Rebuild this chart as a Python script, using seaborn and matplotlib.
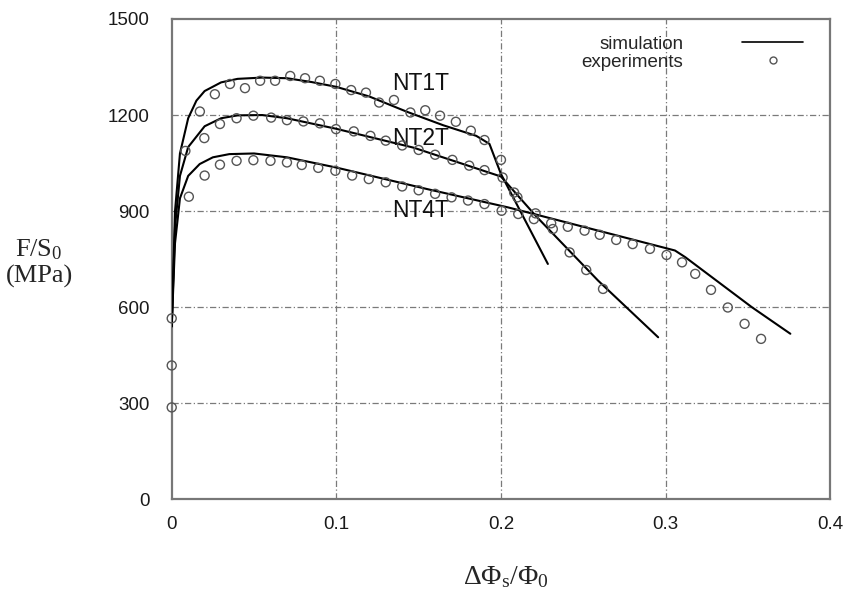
import numpy as np
import pandas as pd
import matplotlib
matplotlib.use("Agg")
import matplotlib.pyplot as plt
import seaborn as sns
from matplotlib.lines import Line2D

# simulation curves
nt1t_sim_x = [0, 0.002, 0.005, 0.010, 0.015, 0.020, 0.030, 0.040, 0.055, 0.070, 0.085, 0.100, 0.120, 0.143, 0.165, 0.185, 0.193, 0.200, 0.2285]
nt1t_sim_y = [540, 900, 1080, 1190, 1245, 1275, 1302, 1313, 1317, 1315, 1303, 1288, 1258, 1210, 1168, 1135, 1110, 1016, 735]

nt2t_sim_x = [0, 0.002, 0.005, 0.010, 0.020, 0.030, 0.040, 0.055, 0.070, 0.100, 0.147, 0.200, 0.221, 0.259, 0.2955]
nt2t_sim_y = [540, 850, 1010, 1100, 1165, 1190, 1199, 1200, 1190, 1157, 1098, 1008, 886, 683, 506]

nt4t_sim_x = [0, 0.002, 0.005, 0.010, 0.017, 0.025, 0.035, 0.050, 0.070, 0.100, 0.155, 0.204, 0.220, 0.3057, 0.312, 0.3524, 0.3758]
nt4t_sim_y = [540, 800, 940, 1010, 1047, 1068, 1078, 1080, 1068, 1036, 969, 912, 891, 777, 756, 600, 517]

# experiments
nt1t_exp_x = [0, 0.0171, 0.0262, 0.0354, 0.0445, 0.0537, 0.0628, 0.072, 0.081, 0.090, 0.0994, 0.109, 0.118, 0.126, 0.135, 0.145, 0.154, 0.163, 0.1726, 0.1817, 0.190, 0.200, 0.208]
nt1t_exp_y = [565, 1211, 1265, 1297, 1284, 1307, 1307, 1322, 1315, 1307, 1297, 1278, 1270, 1239, 1247, 1208, 1215, 1198, 1179, 1151, 1122, 1060, 958]

nt2t_exp_x = [0, 0.0083, 0.0198, 0.0293, 0.0394, 0.0496, 0.0604, 0.070, 0.080, 0.090, 0.0998, 0.1106, 0.1207, 0.130, 0.140, 0.150, 0.160, 0.1705, 0.1807, 0.190, 0.201, 0.210, 0.221, 0.2315, 0.2417, 0.2518, 0.262]
nt2t_exp_y = [418, 1088, 1128, 1172, 1190, 1198, 1192, 1184, 1180, 1174, 1156, 1149, 1135, 1120, 1105, 1091, 1076, 1060, 1042, 1028, 1005, 943, 893, 844, 771, 716, 657]

nt4t_exp_x = [0, 0.0104, 0.020, 0.0293, 0.0394, 0.0496, 0.060, 0.070, 0.079, 0.089, 0.0994, 0.1096, 0.1197, 0.130, 0.140, 0.150, 0.160, 0.170, 0.180, 0.190, 0.2004, 0.2105, 0.220, 0.2305, 0.2406, 0.2508, 0.260, 0.270, 0.280, 0.2905, 0.3006, 0.310, 0.318, 0.3276, 0.3378, 0.348, 0.358]
nt4t_exp_y = [287, 945, 1011, 1045, 1057, 1059, 1057, 1052, 1044, 1035, 1026, 1011, 1000, 990, 977, 965, 954, 943, 933, 922, 901, 891, 875, 862, 851, 839, 826, 810, 797, 782, 763, 740, 704, 654, 599, 548, 501]

specimens = ["NT1T", "NT2T", "NT4T"]
label_y = [1298, 1126, 901]
x_ticks = [0, 0.1, 0.2, 0.3, 0.4]
x_tick_labels = ["0", "0.1", "0.2", "0.3", "0.4"]
y_ticks = [0, 300, 600, 900, 1200, 1500]

sim = pd.concat([
    pd.DataFrame({"x": nt1t_sim_x, "y": nt1t_sim_y, "spec": "NT1T"}),
    pd.DataFrame({"x": nt2t_sim_x, "y": nt2t_sim_y, "spec": "NT2T"}),
    pd.DataFrame({"x": nt4t_sim_x, "y": nt4t_sim_y, "spec": "NT4T"}),
])
exp = pd.concat([
    pd.DataFrame({"x": nt1t_exp_x, "y": nt1t_exp_y, "spec": "NT1T"}),
    pd.DataFrame({"x": nt2t_exp_x, "y": nt2t_exp_y, "spec": "NT2T"}),
    pd.DataFrame({"x": nt4t_exp_x, "y": nt4t_exp_y, "spec": "NT4T"}),
])

sns.set_style("white")
plt.rcParams["font.family"] = ["Liberation Sans", "DejaVu Sans"]
plt.rcParams["mathtext.fontset"] = "custom"
plt.rcParams["mathtext.rm"] = "Liberation Serif"
plt.rcParams["mathtext.it"] = "Liberation Serif:italic"

fig, ax = plt.subplots(figsize=(8.48, 5.93), dpi=100)
fig.subplots_adjust(left=0.2025, right=0.979, top=0.968, bottom=0.158)

# grid first so data sits on top
for xv in x_ticks[1:-1]:
    ax.axvline(xv, color="#7a7a7a", lw=0.9, ls=(0, (5, 2, 1, 2)), zorder=0)
for yv in y_ticks[1:-1]:
    ax.axhline(yv, color="#7a7a7a", lw=0.9, ls=(0, (5, 2, 1, 2)), zorder=0)

sns.lineplot(data=sim, x="x", y="y", units="spec", estimator=None, sort=False,
             color="black", lw=1.5, ax=ax, zorder=3)
sns.scatterplot(data=exp, x="x", y="y", marker="o", s=42, facecolor="none",
                edgecolor="#555555", linewidth=1.0, ax=ax, zorder=4, clip_on=False)

ax.set_xlim(0, 0.4)
ax.set_ylim(0, 1500)
ax.set_xticks(x_ticks)
ax.set_xticklabels(x_tick_labels)
ax.set_yticks(y_ticks)
ax.tick_params(length=0, labelsize=13.5, colors="#1a1a1a")
ax.tick_params(axis="y", pad=16)
ax.tick_params(axis="x", pad=12)
ax.set_xlabel("")
ax.set_ylabel("")
for s in ax.spines.values():
    s.set_color("#777777")
    s.set_linewidth(1.6)

# curve labels
for name, ly in zip(specimens, label_y):
    ax.text(0.151, ly, name, fontsize=16.5, ha="center", va="center", color="#111111")

handles = [Line2D([], [], color="black", lw=1.2),
           Line2D([], [], ls="none", marker="o", ms=5, mfc="none", mec="#555555")]
ax.legend(handles, ["simulation", "experiments"], loc="upper right",
          bbox_to_anchor=(0.985, 1.0), markerfirst=False, frameon=False,
          fontsize=13.5, handlelength=3.3, handletextpad=3.1, labelspacing=0.05)

fig.text(0.046, 0.557, "F/S$_0$\n(MPa)", fontsize=19, family="Liberation Serif",
         ha="center", va="center", linespacing=1.2)
fig.text(0.596, 0.027, "ΔΦ$_\\mathrm{s}$/Φ$_0$", fontsize=20, family="Liberation Serif",
         ha="center", va="center")

fig.savefig("out.png", dpi=100)
